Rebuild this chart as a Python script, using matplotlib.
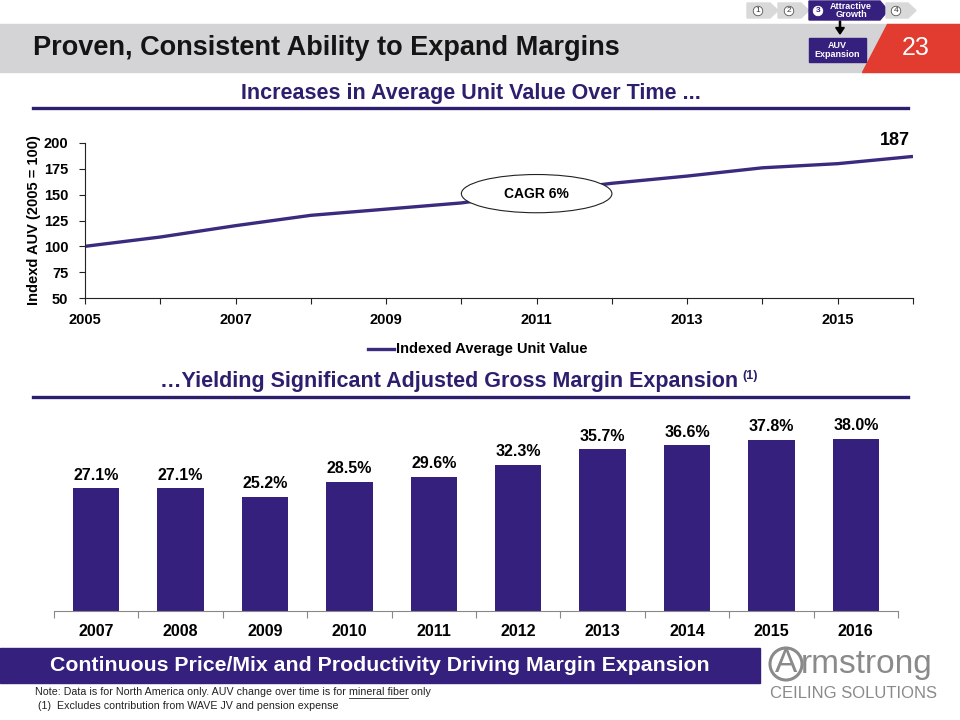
import matplotlib
matplotlib.use("Agg")
import matplotlib.pyplot as plt
from matplotlib.patches import Rectangle, Polygon, Ellipse, FancyArrow
import numpy as np

plt.rcParams['font.family'] = ['Liberation Sans', 'DejaVu Sans']

# AUV index data
auv_years = [2005, 2006, 2007, 2008, 2009, 2010, 2011, 2012, 2013, 2014, 2015, 2016]
auv_index = [100, 109, 120, 130, 136, 142, 152, 161, 168, 176, 180, 187]

# gross margin data
gm_years = ['2007', '2008', '2009', '2010', '2011', '2012', '2013', '2014', '2015', '2016']
gm_pct = [27.1, 27.1, 25.2, 28.5, 29.6, 32.3, 35.7, 36.6, 37.8, 38.0]

PURPLE = '#35207d'
HEAD = '#2e1f6e'
W, H = 960, 720

fig = plt.figure(figsize=(9.6, 7.2), dpi=100)


def fx(x):
    return x / W


def fy(y):
    return 1 - y / H


def px_axes(left, top, right, bottom):
    return [fx(left), fy(bottom), (right - left) / W, (bottom - top) / H]


# ---- header ----
fig.patches.append(Rectangle((0, fy(72)), 1, (72 - 24) / H, transform=fig.transFigure,
                             color='#d4d4d6', zorder=0))
fig.patches.append(Polygon([(fx(887), fy(24)), (1, fy(24)), (1, fy(72)), (fx(862), fy(72))],
                           closed=True, transform=fig.transFigure, color='#e23b30', zorder=1))
fig.text(fx(33), fy(48), 'Proven, Consistent Ability to Expand Margins', fontsize=19.5,
         fontweight='bold', color='#141414', va='center', ha='left')
fig.text(fx(916), fy(48), '23', fontsize=18, color='white', va='center', ha='center')

# step chevrons
def chevron(x0, x1, ytop, ybot, color):
    tip = 8
    pts = [(x0, ytop), (x1, ytop), (x1 + tip, (ytop + ybot) / 2), (x1, ybot), (x0, ybot)]
    fig.patches.append(Polygon([(fx(a), fy(b)) for a, b in pts], closed=True,
                               transform=fig.transFigure, color=color, zorder=1))

chevron(747, 770, 3, 18, '#d9d9d9')
chevron(778, 801, 3, 18, '#d9d9d9')
chevron(809, 880, 1, 20, PURPLE)
chevron(886, 908, 3, 18, '#d9d9d9')
for cx, lab in [(758, '1'), (789, '2'), (896, '4')]:
    fig.text(fx(cx), fy(11), lab, fontsize=6, color='#333333', ha='center', va='center',
             bbox=dict(boxstyle='circle,pad=0.15', fc='white', ec='#555555', lw=0.6))
fig.text(fx(818), fy(11), '3', fontsize=6, color=PURPLE, fontweight='bold', ha='center',
         va='center', bbox=dict(boxstyle='circle,pad=0.15', fc='white', ec='white', lw=0.6))
fig.text(fx(851), fy(10.5), 'Attractive\nGrowth', fontsize=6.5, color='white', fontweight='bold',
         ha='center', va='center', linespacing=0.95)
fig.patches.append(Rectangle((fx(809), fy(62)), 57 / W, 24 / H, transform=fig.transFigure,
                             color=PURPLE, zorder=2))
fig.text(fx(837.5), fy(50), 'AUV\nExpansion', fontsize=6.5, color='white', fontweight='bold',
         ha='center', va='center', linespacing=0.95, zorder=3)
fig.add_artist(FancyArrow(fx(840), fy(21), 0, -(13 / H), width=0.0012, head_width=0.009,
                          head_length=0.009, length_includes_head=True, color='black',
                          transform=fig.transFigure))

# ---- section headers ----
fig.text(fx(471), fy(93), 'Increases in Average Unit Value Over Time ...', fontsize=15.5,
         fontweight='bold', color=HEAD, ha='center', va='center')
fig.add_artist(plt.Line2D([fx(33), fx(908)], [fy(108), fy(108)], color=HEAD, lw=2.4,
                          transform=fig.transFigure))
sub2 = fig.text(fx(160), fy(381), '\u2026Yielding Significant Adjusted Gross Margin Expansion',
                fontsize=15.5, fontweight='bold', color=HEAD, ha='left', va='center')
fig.add_artist(plt.Line2D([fx(33), fx(908)], [fy(397), fy(397)], color=HEAD, lw=2.4,
                          transform=fig.transFigure))

# ---- line chart ----
ax1 = fig.add_axes(px_axes(85, 143, 913, 298))
ax1.plot(auv_years, auv_index, color='#3b2a7e', lw=2.4, solid_capstyle='butt')
ax1.set_xlim(2005, 2016)
ax1.set_ylim(50, 200)
ax1.set_yticks(np.arange(50, 201, 25))
ax1.set_xticks(range(2005, 2017))
ax1.set_xticklabels([str(y) if (y - 2005) % 2 == 0 else '' for y in range(2005, 2017)])
for s in ['top', 'right']:
    ax1.spines[s].set_visible(False)
ax1.spines['left'].set_color('#222222')
ax1.spines['bottom'].set_color('#222222')
ax1.tick_params(axis='y', length=4, labelsize=10.5, pad=8, color='#222222')
ax1.tick_params(axis='x', direction='out', length=4, labelsize=10.5, pad=7, color='#222222')
for lab in ax1.get_xticklabels() + ax1.get_yticklabels():
    lab.set_fontweight('bold')
ax1.set_ylabel('Indexd AUV (2005 = 100)', fontsize=10.5, fontweight='bold', labelpad=2)
ax1.annotate(str(auv_index[-1]), (auv_years[-1], auv_index[-1]), xytext=(-2, 5),
             textcoords='offset points', ha='right', va='bottom', fontsize=13, fontweight='bold')
ax1.add_patch(Ellipse((2011, 151), 2.0, 37, fc='white', ec='#222222', lw=0.8, zorder=3,
                      clip_on=False))
ax1.text(2011, 151, 'CAGR 6%', fontsize=10, fontweight='bold', ha='center', va='center', zorder=4)

# legend
fig.add_artist(plt.Line2D([fx(368), fx(394)], [fy(349), fy(349)], color='#3b2a7e', lw=2.4,
                          transform=fig.transFigure))
fig.text(fx(396), fy(349), 'Indexed Average Unit Value', fontsize=10.5, fontweight='bold',
         ha='left', va='center')

# ---- bar chart ----
ax2 = fig.add_axes(px_axes(54, 420, 898, 611))
xpos = np.arange(len(gm_years))
ax2.bar(xpos, gm_pct, width=0.55, color=PURPLE)
ax2.set_xlim(-0.5, len(gm_years) - 0.5)
ax2.set_ylim(0, 191 / 4.53)
for x, v in zip(xpos, gm_pct):
    ax2.annotate(f'{v:.1f}%', (x, v), xytext=(0, 4), textcoords='offset points', ha='center',
                 va='bottom', fontsize=11.5, fontweight='bold')
ax2.set_yticks([])
for s in ['top', 'right', 'left']:
    ax2.spines[s].set_visible(False)
ax2.spines['bottom'].set_color('#888888')
ax2.set_xticks(np.arange(-0.5, len(gm_years), 1), minor=False)
ax2.set_xticklabels([])
ax2.set_xticks(xpos, minor=True)
ax2.set_xticklabels(gm_years, minor=True)
ax2.tick_params(axis='x', which='major', length=5, color='#888888')
ax2.tick_params(axis='x', which='minor', length=0, labelsize=11.5, pad=9)
for lab in ax2.get_xticklabels(minor=True):
    lab.set_fontweight('bold')

# ---- footer ----
fig.patches.append(Rectangle((0, fy(683)), fx(760), 35 / H, transform=fig.transFigure,
                             color=PURPLE, zorder=1))
fig.text(fx(380), fy(665.5), 'Continuous Price/Mix and Productivity Driving Margin Expansion',
         fontsize=15.3, fontweight='bold', color='white', ha='center', va='center', zorder=2)

fig.canvas.draw()
renderer = fig.canvas.get_renderer()

# superscript after the second header
bb = sub2.get_window_extent(renderer)
fig.text(bb.x1 / W + 4 / W, fy(376), '(1)', fontsize=9, fontweight='bold', color=HEAD,
         ha='left', va='center')

note_parts = ['Note: Data is for North America only. AUV change over time is for ', 'mineral fiber',
              ' only']
x = fx(35)
for i, part in enumerate(note_parts):
    t = fig.text(x, fy(692), part, fontsize=7.7, color='#222222', ha='left', va='center')
    bb = t.get_window_extent(renderer)
    if i == 1:
        fig.add_artist(plt.Line2D([bb.x0 / W, bb.x1 / W - 1 / W], [fy(698), fy(698)], lw=0.6,
                                  color='#222222', transform=fig.transFigure))
    x = bb.x1 / W
fig.text(fx(38), fy(706), '(1)  Excludes contribution from WAVE JV and pension expense',
         fontsize=7.7, color='#222222', ha='left', va='center')

# logo
LOGO = '#8a8a8a'
fig.add_artist(Ellipse((fx(786), fy(664)), 32 / W, 32 / H, fill=False, ec=LOGO, lw=2.2,
                       transform=fig.transFigure))
fig.text(fx(786), fy(664), 'A', fontsize=24, color=LOGO, ha='center', va='center')
fig.text(fx(801), fy(664), 'rmstrong', fontsize=24, color=LOGO, ha='left', va='center')
fig.text(fx(854), fy(693), 'CEILING SOLUTIONS', fontsize=12, color=LOGO, ha='center',
         va='center')

fig.savefig('out.png', dpi=100)
